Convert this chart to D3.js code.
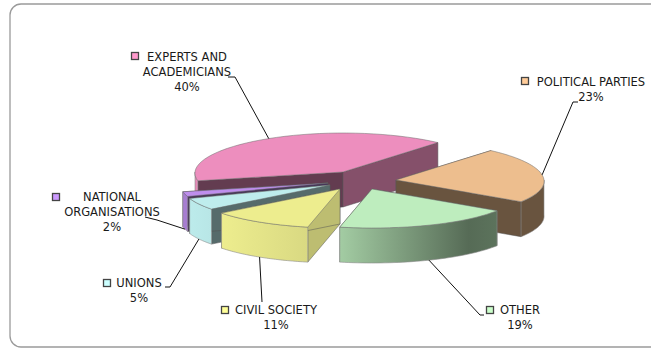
<!DOCTYPE html>
<html>
<head>
<meta charset="utf-8">
<script src="https://cdn.jsdelivr.net/npm/d3@7"></script>
<style>
  html, body { margin: 0; padding: 0; background: #fff; overflow: hidden; }
  text { font-family: "DejaVu Sans Condensed", "DejaVu Sans", sans-serif; font-stretch: condensed; font-size: 12.8px; fill: #1a1a1a; }
</style>
</head>
<body>
<div id="chart-area"></div>
<script>
// chart data
const categories = ["EXPERTS AND ACADEMICIANS", "POLITICAL PARTIES", "OTHER", "CIVIL SOCIETY", "UNIONS", "NATIONAL ORGANISATIONS"];
const shares = [40, 23, 19, 11, 5, 2];
const colors = ["#ff99cc", "#ffcc99", "#ccffcc", "#ffff99", "#ccffff", "#cc99ff"];

// SVG drawing area
const width = 651, height = 348;

const svg = d3.select("#chart-area").append("svg")
    .attr("width", width)
    .attr("height", height);

const defs = svg.append("defs");

// card border
svg.append("rect")
    .attr("x", 10).attr("y", 4)
    .attr("width", 720).attr("height", 343)
    .attr("rx", 11)
    .attr("fill", "#fff")
    .attr("stroke", "#9a9a9a")
    .attr("stroke-width", 1.3);

// pie shape
const centerX = 343, centerY = 172;
const radiusX = 148, radiusY = 39, depth = 35, perspective = 0.03;
const firstAngle = -103 * Math.PI / 180;

// how far each slice is pulled out of the pie, and its shading
const slices = [
    {dx: 0,  dy: 0,  wallStart: 0.39, wallEnd: 0.52, rim: [[0, 0.9], [1, 0.9]]},
    {dx: 53, dy: 8,  wallStart: 0.41, wallEnd: 0.41, rim: [[0, 0.41], [1, 0.41]]},
    {dx: 29, dy: 17, wallStart: 0.5,  wallEnd: 0.5,  rim: [[0, 0.8], [0.82, 0.42], [1, 0.45]]},
    {dx: -3, dy: 17, wallStart: 0.74, wallEnd: 0.74, rim: [[0, 0.93], [1, 0.85]]},
    {dx: -13, dy: 13, wallStart: 0.42, wallEnd: 0.42, rim: [[0, 0.92], [1, 0.9]]},
    {dx: -15, dy: 11, wallStart: 0.35, wallEnd: 0.35, rim: [[0, 0.82], [1, 0.82]]}
];

// where the labels sit
const labels = [
    {lines: ["EXPERTS AND", "ACADEMICIANS", "40%"], x: 187, y: 57, key: [135, 56], elbow: [[235, 77], [228, 77]]},
    {lines: ["POLITICAL PARTIES", "23%"], x: 591, y: 82, key: [525, 81], elbow: [[573, 102], [578, 102]]},
    {lines: ["OTHER", "19%"], x: 520, y: 310, key: [490, 310], elbow: [[480, 315], [484, 315]]},
    {lines: ["CIVIL SOCIETY", "11%"], x: 276, y: 310, key: [225, 310], elbow: [[262, 302]]},
    {lines: ["UNIONS", "5%"], x: 139, y: 283, key: [107, 283], elbow: [[170, 287], [165, 287]]},
    {lines: ["NATIONAL", "ORGANISATIONS", "2%"], x: 112, y: 197, key: [56, 197], elbow: [[157, 220], [145, 217]]}
];

const pie = d3.pie().sort(null).value(d => d).startAngle(firstAngle).endAngle(firstAngle + 2 * Math.PI);
const arcs = pie(shares);

const shade = (color, k) => {
    const c = d3.rgb(color);
    return d3.rgb(c.r * k, c.g * k, c.b * k).formatHex();
};

// screen position of an angle on the slice's rim
const rimPoint = (i, a, drop = 0) => [
    centerX + slices[i].dx + radiusX * Math.sin(a) * (1 - perspective * Math.cos(a)),
    centerY + slices[i].dy - radiusY * Math.cos(a) + drop
];
const apex = (i, drop = 0) => [centerX + slices[i].dx, centerY + slices[i].dy + drop];

const path = d3.line();
const sweep = (a0, a1) => d3.range(0, 41).map(k => a0 + (a1 - a0) * k / 40);

const drawSlice = i => {
    const arc = arcs[i];
    const color = colors[i];
    const g = svg.append("g").attr("class", "slice");

    // cut walls
    [[arc.startAngle, slices[i].wallStart], [arc.endAngle, slices[i].wallEnd]].forEach(w => {
        g.append("path")
            .attr("d", path([apex(i), rimPoint(i, w[0]), rimPoint(i, w[0], depth), apex(i, depth)]) + "Z")
            .attr("fill", shade(color, w[1]))
            .attr("stroke", "#555")
            .attr("stroke-width", 0.5);
    });

    // outer rim, only the part facing the viewer
    const from = arc.startAngle < 0 ? arc.startAngle : Math.max(arc.startAngle, Math.PI / 2);
    const to = arc.startAngle < 0 ? Math.min(arc.endAngle, -Math.PI / 2) : Math.min(arc.endAngle, 3 * Math.PI / 2);
    if (to > from) {
        const top = sweep(from, to).map(a => rimPoint(i, a));
        const bottom = sweep(to, from).map(a => rimPoint(i, a, depth));
        const xs = top.map(p => p[0]);
        const id = "rim" + i;
        const grad = defs.append("linearGradient")
            .attr("id", id)
            .attr("gradientUnits", "userSpaceOnUse")
            .attr("x1", d3.min(xs)).attr("x2", d3.max(xs))
            .attr("y1", 0).attr("y2", 0);
        slices[i].rim.forEach(st => {
            grad.append("stop").attr("offset", st[0]).attr("stop-color", shade(color, st[1]));
        });
        g.append("path")
            .attr("d", path(top.concat(bottom)) + "Z")
            .attr("fill", "url(#" + id + ")")
            .attr("stroke", "#8a8a8a")
            .attr("stroke-width", 0.6);
    }

    // top face
    const outline = [apex(i)].concat(sweep(arc.startAngle, arc.endAngle).map(a => rimPoint(i, a)));
    g.append("path")
        .attr("d", path(outline) + "Z")
        .attr("fill", shade(color, 0.93))
        .attr("stroke", "#6a6a6a")
        .attr("stroke-width", 0.5);
};

// back to front
[0, 1, 5, 4, 3, 2].forEach(drawSlice);

// leader lines
labels.forEach((d, i) => {
    const mid = (arcs[i].startAngle + arcs[i].endAngle) / 2;
    const start = rimPoint(i, mid, Math.cos(mid) < 0 ? depth : 0);
    svg.append("path")
        .attr("d", path([start].concat(d.elbow)))
        .attr("fill", "none")
        .attr("stroke", "#111")
        .attr("stroke-width", 1);
});

// labels and their keys
labels.forEach((d, i) => {
    svg.append("rect")
        .attr("x", d.key[0] - 3.5).attr("y", d.key[1] - 3.5)
        .attr("width", 7).attr("height", 7)
        .attr("fill", colors[i])
        .attr("stroke", "#444")
        .attr("stroke-width", 1.3);

    const text = svg.append("text")
        .attr("text-anchor", "middle");
    d.lines.forEach((line, k) => {
        text.append("tspan")
            .attr("x", d.x)
            .attr("y", d.y + 4 + k * 15.2)
            .text(line);
    });
});
</script>
</body>
</html>
